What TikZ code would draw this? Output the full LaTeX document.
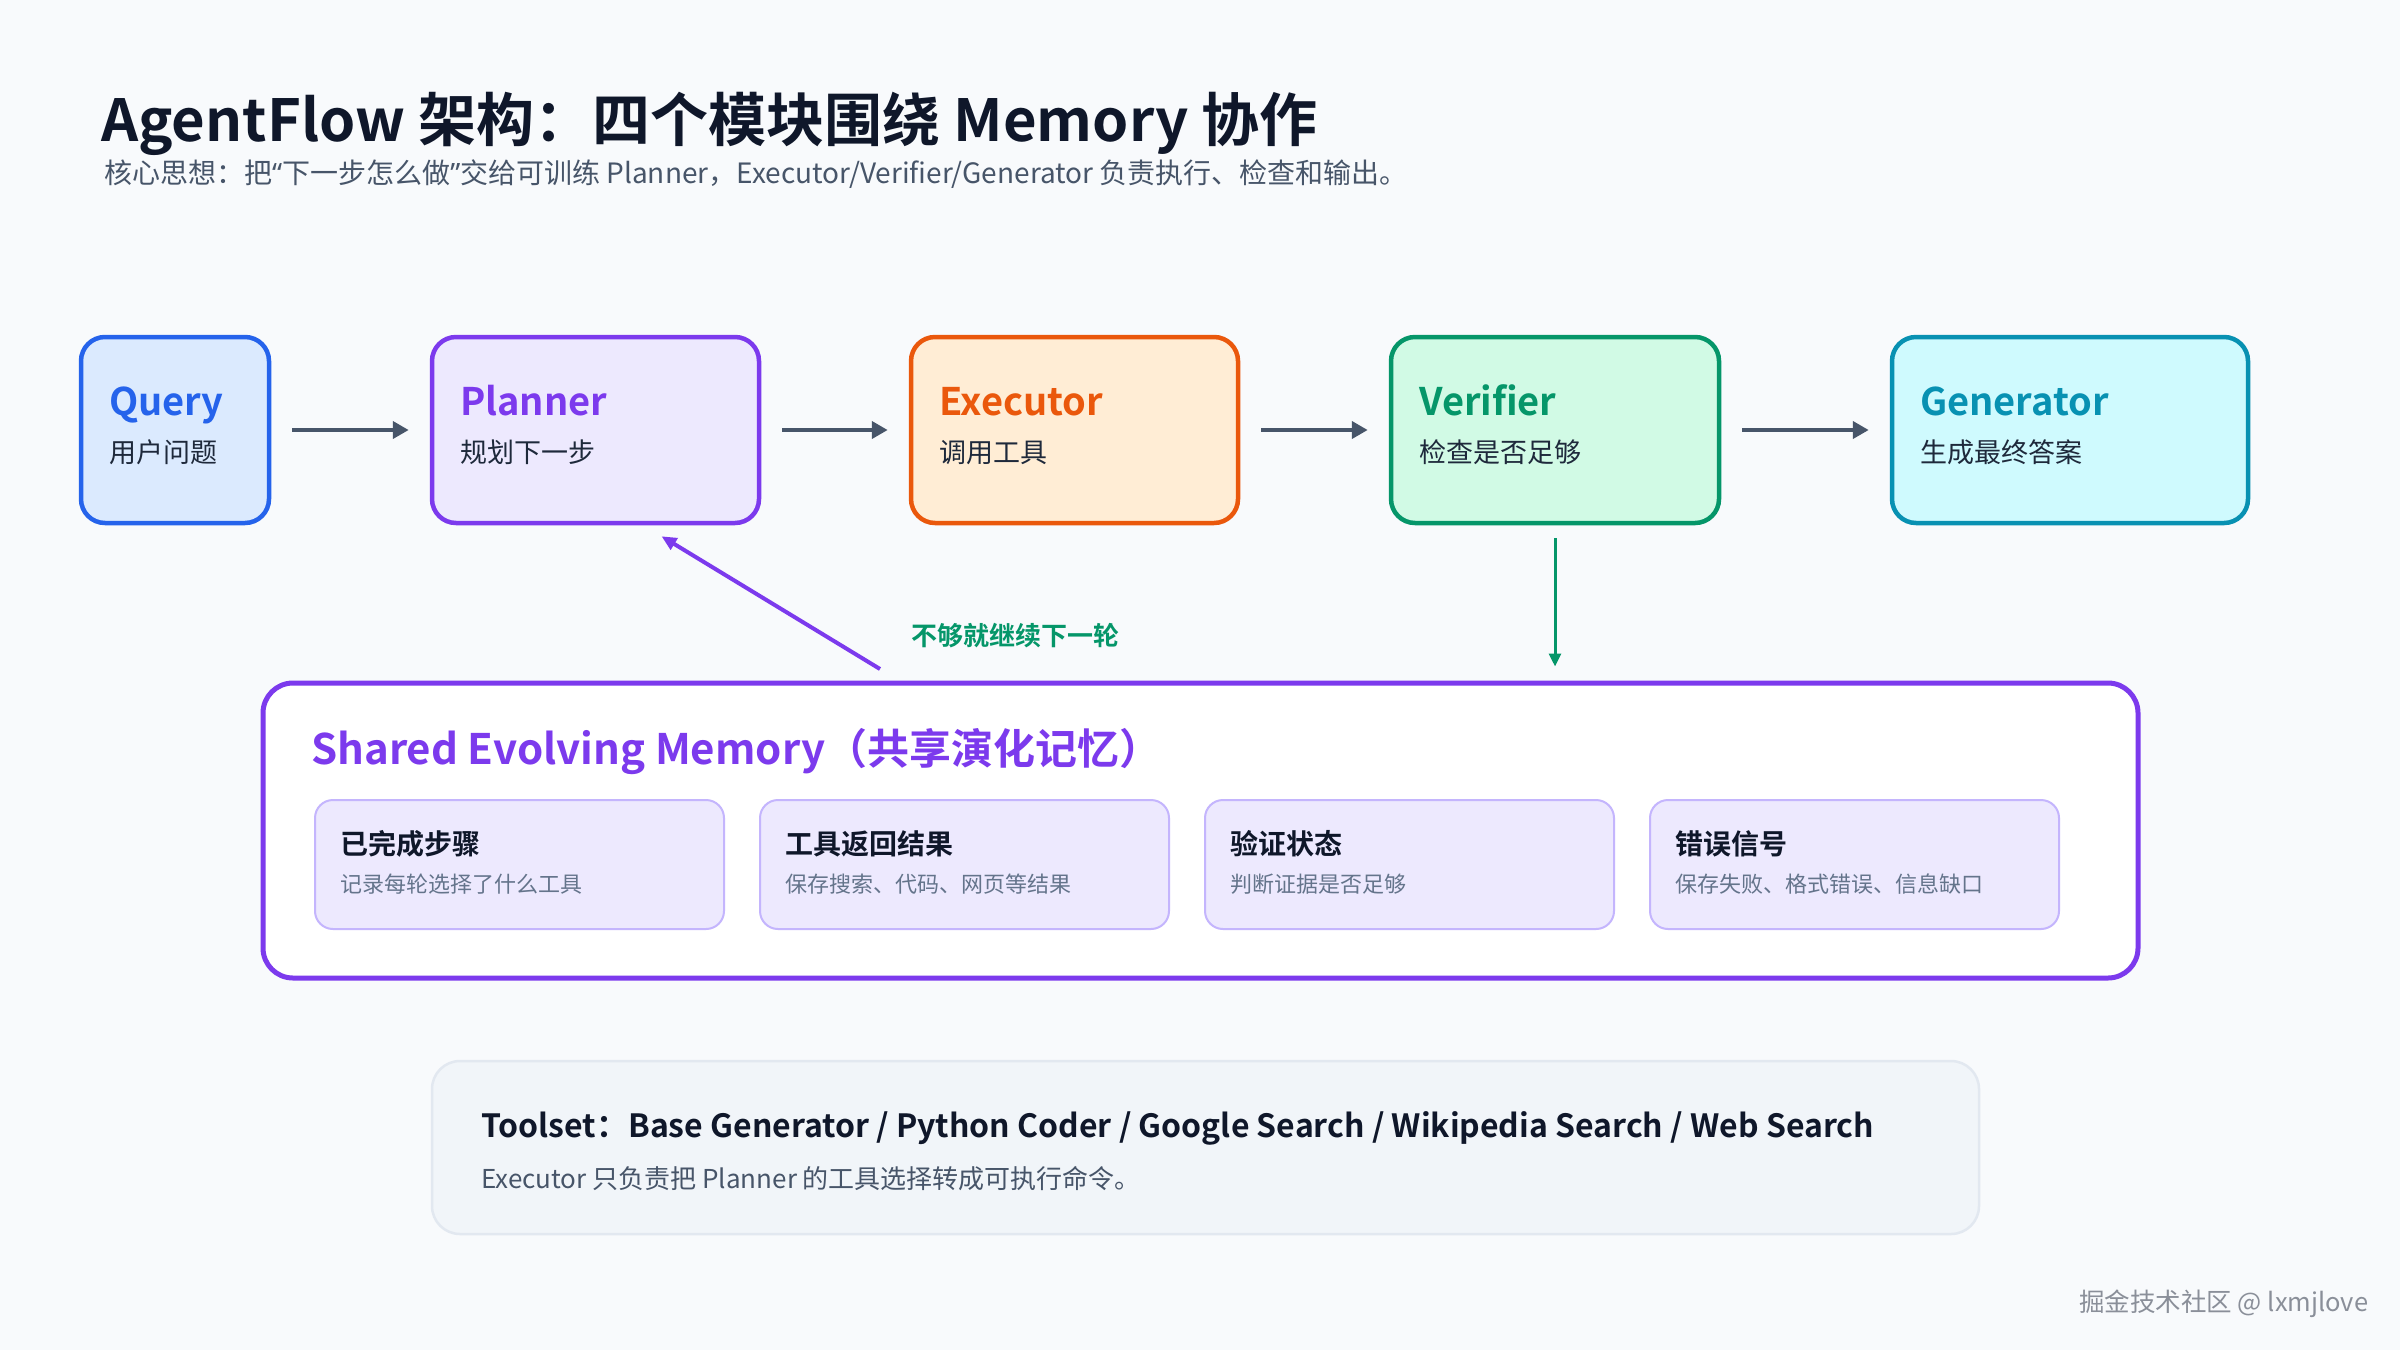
\documentclass[tikz,border=0pt]{standalone}
\usepackage{fontspec}
\setmainfont{Noto Sans CJK SC}[BoldFont={Noto Sans CJK SC Bold}]
\newfontfamily\latinq{Noto Sans}
\usetikzlibrary{positioning,arrows.meta}
\definecolor{bgc}{HTML}{F8FAFC}
\definecolor{ink}{HTML}{0F172A}
\definecolor{body}{HTML}{1E293B}
\definecolor{muted}{HTML}{475569}
\definecolor{soft}{HTML}{64748B}
\definecolor{qBlue}{HTML}{2563EB}\definecolor{qFill}{HTML}{DBEAFE}
\definecolor{pPurple}{HTML}{7C3AED}\definecolor{pFill}{HTML}{EDE9FE}
\definecolor{eOrange}{HTML}{EA580C}\definecolor{eFill}{HTML}{FFEDD5}
\definecolor{vGreen}{HTML}{059669}\definecolor{vFill}{HTML}{D1FAE5}
\definecolor{gTeal}{HTML}{0891B2}\definecolor{gFill}{HTML}{CFFAFE}
\definecolor{cardFill}{HTML}{EDE9FE}\definecolor{cardLine}{HTML}{C4B5FD}
\definecolor{toolFill}{HTML}{F1F5F9}\definecolor{toolLine}{HTML}{E2E8F0}
\definecolor{markGray}{HTML}{8A8F99}

\begin{document}
\begin{tikzpicture}[x=1pt,y=-1pt]
	\tikzset{
		module/.style={draw, rounded corners=24pt, line width=4.5pt, minimum height=186pt, inner sep=0pt},
		modtitle/.style={anchor=base west, inner sep=0pt, font=\fontsize{38}{46}\selectfont\bfseries},
		modsub/.style={anchor=base west, inner sep=0pt, text=body, font=\fontsize{27}{32}\selectfont},
		flow/.style={draw=muted, line width=4.5pt, -{Triangle[length=16pt,width=17pt]}, shorten <=21pt, shorten >=21pt},
		card/.style={draw=cardLine, fill=cardFill, line width=2pt, rounded corners=18pt, minimum width=409pt, minimum height=129pt, inner sep=0pt},
		cardtitle/.style={anchor=base west, inner sep=0pt, text=ink, font=\fontsize{28}{34}\selectfont\bfseries},
		carddesc/.style={anchor=base west, inner sep=0pt, text=soft, font=\fontsize{22}{26}\selectfont}
	}
	\useasboundingbox (0,0) rectangle (2400,1350);
	\fill[bgc] (0,0) rectangle (2400,1350);

	\node[anchor=base west, inner sep=0pt, text=ink, font=\fontsize{58}{70}\selectfont\bfseries] (title) at (101,141) {AgentFlow 架构：四个模块围绕 Memory 协作};
	\node[anchor=base west, inner sep=0pt, text=muted, font=\fontsize{28}{34}\selectfont] (subtitle) at (104,183) {核心思想：把{\latinq “}下一步怎么做{\latinq ”}交给可训练 Planner，Executor/Verifier/Generator 负责执行、检查和输出。};

	\foreach \n/\cx/\w/\lc/\fc/\ti/\su in {q/175/188/qBlue/qFill/Query/用户问题, pl/595.5/327/pPurple/pFill/Planner/规划下一步, ex/1074.5/327/eOrange/eFill/Executor/调用工具, ve/1555/328/vGreen/vFill/Verifier/检查是否足够, ge/2070/356/gTeal/gFill/Generator/生成最终答案} {
		\node[module, draw=\lc, fill=\fc, minimum width=\w pt] (\n) at (\cx,430) {};
		\node[modtitle, text=\lc] (\n t) at (\cx-\w/2+28,415) {\ti};
		\node[modsub] (\n s) at (\cx-\w/2+28,462) {\su};
	}
	\foreach \a/\b in {q/pl, pl/ex, ex/ve, ve/ge}
		\draw[flow] (\a) -- (\b);

	\node[draw=pPurple, fill=white, line width=5pt, rounded corners=30pt, minimum width=1875pt, minimum height=295pt, inner sep=0pt] (mem) at (1200.5,830.5) {};
	\node[anchor=base west, inner sep=0pt, text=pPurple, font=\fontsize{42}{50}\selectfont\bfseries] (memt) at (311,764) {Shared Evolving Memory（共享演化记忆）};
	\foreach \i/\ti/\de in {1/已完成步骤/记录每轮选择了什么工具, 2/工具返回结果/保存搜索、代码、网页等结果, 3/验证状态/判断证据是否足够, 4/错误信号/保存失败、格式错误、信息缺口} {
		\node[card] (c\i) at (519.5+445*\i-445,864.5) {};
		\node[cardtitle] (c\i t) at (340+445*\i-445,854) {\ti};
		\node[carddesc] (c\i d) at (340+445*\i-445,892) {\de};
	}

	\coordinate (fbTail) at (880,669);
	\draw[pPurple, line width=4pt, -{Triangle[length=15pt,width=13pt]}] (fbTail) -- ([xshift=66pt,yshift=-11pt]pl.south);
	\node[anchor=base west, inner sep=0pt, text=vGreen, font=\fontsize{26}{30}\selectfont\bfseries] (again) at (911,645) {不够就继续下一轮};
	\draw[vGreen, line width=3pt, -{Triangle[length=13pt,width=12pt]}, shorten <=13pt, shorten >=14pt] (ve.south) -- (ve.south |- mem.north);

	\node[draw=toolLine, fill=toolFill, line width=2.5pt, rounded corners=28pt, minimum width=1547pt, minimum height=173pt, inner sep=0pt] (tools) at (1205.5,1147.5) {};
	\node[anchor=base west, inner sep=0pt, text=ink, font=\fontsize{32}{38}\selectfont\bfseries] (toolst) at (481,1137) {Toolset：Base Generator / Python Coder / Google Search / Wikipedia Search / Web Search};
	\node[anchor=base west, inner sep=0pt, text=muted, font=\fontsize{26}{31}\selectfont] (toolsd) at (481,1188) {Executor 只负责把 Planner 的工具选择转成可执行命令。};

	\node[anchor=base west, inner sep=0pt, text=markGray, font=\fontsize{25.5}{30}\selectfont] (mark) at (2079,1311) {掘金技术社区 @ lxmjlove};
\end{tikzpicture}
\end{document}
